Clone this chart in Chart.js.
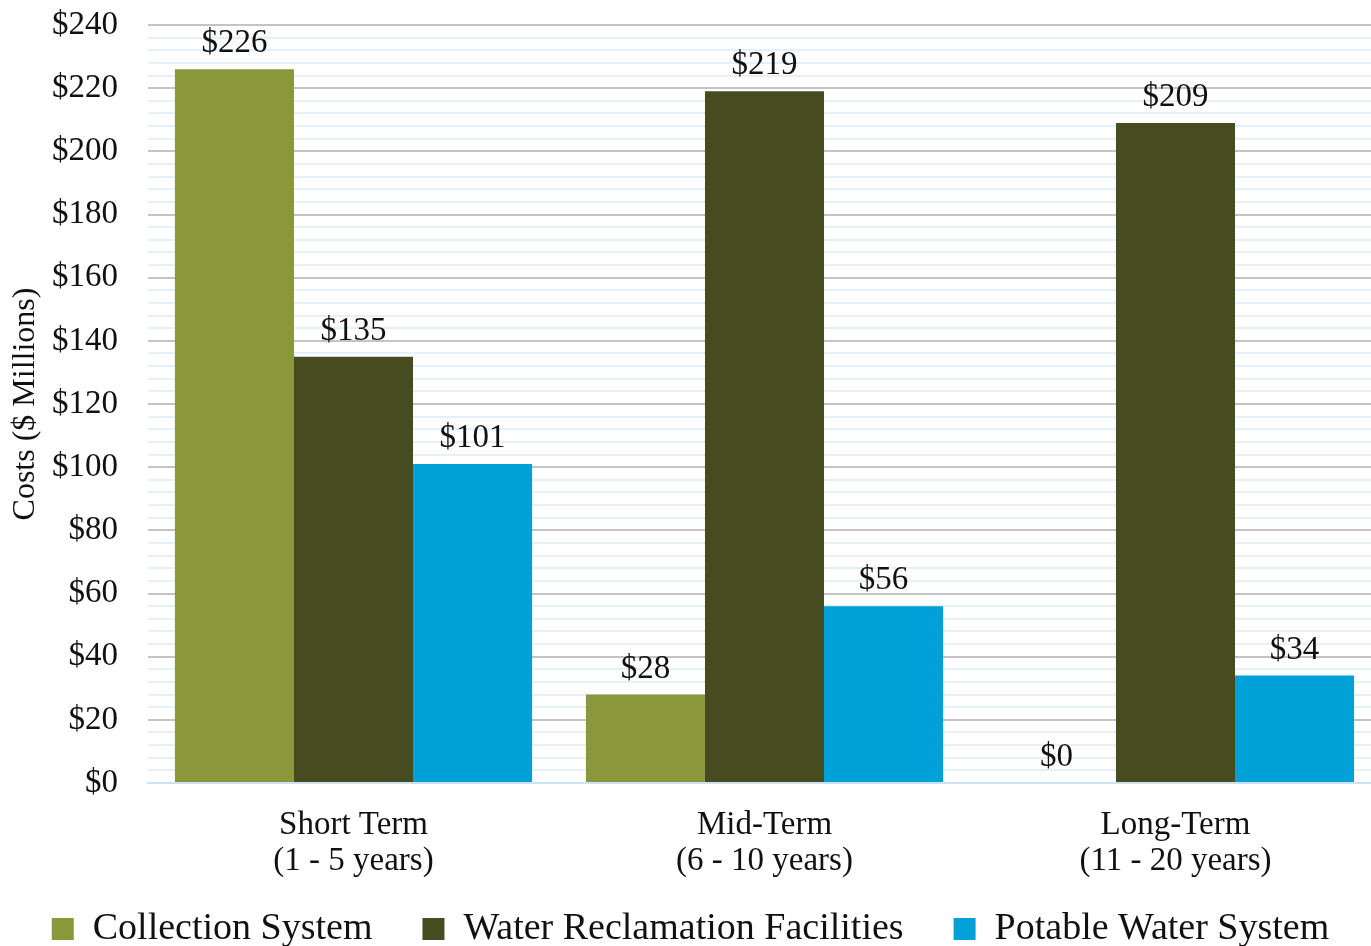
<!DOCTYPE html>
<html>
<head>
<meta charset="utf-8">
<script src="https://cdn.jsdelivr.net/npm/chart.js@4/dist/chart.umd.min.js"></script>
<style>
  html, body { margin: 0; padding: 0; background: #fff; overflow: hidden; }
  #wrap { width: 1381px; height: 946px; }
</style>
</head>
<body>
<div id="wrap"><canvas id="costChart"></canvas></div>
<script>
// Chart data
const categories = [
    ['Short Term', '(1 - 5 years)'],
    ['Mid-Term', '(6 - 10 years)'],
    ['Long-Term', '(11 - 20 years)']
];
const seriesNames = ['Collection System', 'Water Reclamation Facilities', 'Potable Water System'];
const collectionSystem = [226, 28, 0];
const waterReclamation = [135, 219, 209];
const potableWater = [101, 56, 34];
const yMax = 240;
const yStep = 4;      // minor gridline spacing
const yLabelStep = 20; // labelled gridlines

const colors = ['#8a973b', '#464c1f', '#00a0d8'];

Chart.defaults.font.family = '"Liberation Serif", "DejaVu Serif", serif';
Chart.defaults.color = '#111';

// draws "$value" above each bar
const valueLabels = {
    id: 'valueLabels',
    afterDatasetsDraw(chart) {
        const ctx = chart.ctx;
        ctx.save();
        ctx.font = '33px "Liberation Serif"';
        ctx.fillStyle = '#111';
        ctx.textAlign = 'center';
        ctx.textBaseline = 'alphabetic';
        chart.data.datasets.forEach((ds, i) => {
            chart.getDatasetMeta(i).data.forEach((bar, j) => {
                ctx.fillText('$' + ds.data[j], bar.x, bar.y - 17);
            });
        });
        ctx.restore();
    }
};

// the category labels are two lines and reach into the legend band,
// so let the x scale's label clip run to the bottom of the canvas
const unclipX = {
    id: 'unclipX',
    afterLayout(chart) {
        chart.scales.x.bottom = chart.height;
    }
};

const ctx = document.getElementById('costChart').getContext('2d');
const costChart = new Chart(ctx, {
    type: 'bar',
    data: {
        labels: categories,
        datasets: [
            { label: seriesNames[0], data: collectionSystem, backgroundColor: colors[0] },
            { label: seriesNames[1], data: waterReclamation, backgroundColor: colors[1] },
            { label: seriesNames[2], data: potableWater, backgroundColor: colors[2] }
        ]
    },
    options: {
        responsive: true,
        maintainAspectRatio: false,
        animation: false,
        datasets: {
            bar: { categoryPercentage: 0.869, barPercentage: 1.0, borderWidth: 0 }
        },
        layout: { padding: { top: 25, left: 0, right: 0, bottom: -12 } },
        plugins: {
            tooltip: { enabled: false },
            legend: {
                position: 'bottom',
                labels: {
                    font: { size: 38 },
                    color: '#111',
                    boxWidth: 22,
                    boxHeight: 22,
                    padding: 50
                }
            }
        },
        scales: {
            x: {
                grid: { display: false },
                border: { display: true, color: '#c9e2f5', width: 2 },
                ticks: {
                    font: { size: 33, lineHeight: 1.1 },
                    color: '#111',
                    padding: 16,
                    maxRotation: 0,
                    autoSkip: false
                },
                afterFit(scale) {
                    scale.height = Math.max(10, scale.chart.height + 12 - scale.chart.legend.height - 783);
                }
            },
            y: {
                min: 0,
                max: yMax,
                border: { display: false },
                grid: {
                    drawTicks: false,
                    lineWidth: 2,
                    color: (c) => {
                        const v = c.tick.value;
                        if (v === 0) return '#c9e2f5';
                        return v % yLabelStep === 0 ? '#c4c4c4' : '#e4f0fa';
                    }
                },
                ticks: {
                    stepSize: yStep,
                    autoSkip: false,
                    padding: 30,
                    font: { size: 33 },
                    color: '#111',
                    callback: (v) => (v % yLabelStep === 0 ? '$' + v : '')
                },
                title: {
                    display: true,
                    text: 'Costs ($ Millions)',
                    font: { size: 32 },
                    color: '#111',
                    padding: { top: 6, bottom: 0 }
                },
                afterFit(scale) {
                    scale.width = 148;
                    scale.paddingTop = 0;
                    scale.paddingBottom = 0;
                }
            }
        }
    },
    plugins: [valueLabels, unclipX]
});
</script>
</body>
</html>
